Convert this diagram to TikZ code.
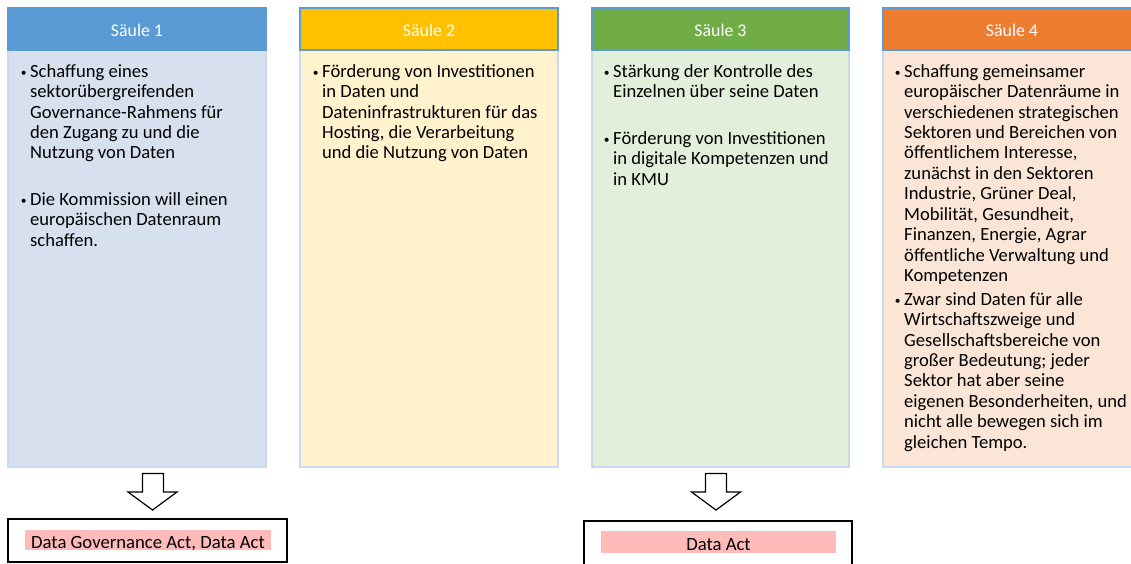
\documentclass[tikz,border=0pt]{standalone}
\usepackage{fontspec}
\setmainfont{Carlito}
\definecolor{hdrA}{HTML}{5B9BD5}
\definecolor{bodyA}{HTML}{D6E0EF}
\definecolor{hdrB}{HTML}{FFC000}
\definecolor{bodyB}{HTML}{FFF2CC}
\definecolor{hdrC}{HTML}{70AD47}
\definecolor{bodyC}{HTML}{E2EFDA}
\definecolor{hdrD}{HTML}{ED7D31}
\definecolor{bodyD}{HTML}{FBE5D6}
\definecolor{bodyline}{HTML}{CBD9EE}
\definecolor{hdrline}{HTML}{5B9BD5}
\definecolor{pinkmark}{HTML}{FFBABA}
\newcommand{\bul}{\llap{\raisebox{1pt}{\fontsize{11.5}{11.5}\selectfont •}\hspace{3.5pt}}}
\tikzset{
  hdrbox/.style={draw=hdrline, line width=1.2pt},
  bodybox/.style={draw=bodyline, line width=1.6pt},
  hdrtext/.style={text=white, font=\fontsize{17.8}{20}\selectfont, inner sep=0pt},
  bullettext/.style={anchor=north west, align=left, inner sep=0pt, font=\fontsize{18.6}{20.45}\selectfont},
  blockarrow/.style={draw=black, line width=1.2pt, fill=white, line join=miter},
  actbox/.style={draw=black, line width=1.3pt, fill=white},
  marktext/.style={fill=pinkmark, inner sep=0pt, anchor=base, font=\fontsize{18.7}{20}\selectfont}
}
\begin{document}
\begin{tikzpicture}[x=1pt, y=-1pt]
\path[use as bounding box] (0,0) rectangle (1131,563);
\clip (0,0) rectangle (1131,563);
\fill[white] (0,0) rectangle (1131,563);

% Column 1
\path[bodybox, fill=bodyA] (8,50) rectangle (266,467);
\path[hdrbox, fill=hdrA] (8,8) rectangle (266,50);
\node[hdrtext] (h1) at (137,30) {Säule 1};
\node[bullettext] (c1a) at (30,62.65) {\strut\bul Schaffung eines\\sektorübergreifenden\\Governance-Rahmens für\\den Zugang zu und die\\Nutzung von Daten};
\node[bullettext] (c1b) at (30,190.65) {\strut\bul Die Kommission will einen\\europäischen Datenraum\\schaffen.};

% Column 2
\path[bodybox, fill=bodyB] (300,50) rectangle (558,467);
\path[hdrbox, fill=hdrB] (300,8) rectangle (558,50);
\node[hdrtext] (h2) at (429,30) {Säule 2};
\node[bullettext] (c2a) at (322,62.65) {\strut\bul Förderung von Investitionen\\in Daten und\\Dateninfrastrukturen für das\\Hosting, die Verarbeitung\\und die Nutzung von Daten};

% Column 3
\path[bodybox, fill=bodyC] (592,50) rectangle (849,467);
\path[hdrbox, fill=hdrC] (592,8) rectangle (849,50);
\node[hdrtext] (h3) at (720.5,30) {Säule 3};
\node[bullettext] (c3a) at (613,62.65) {\strut\bul Stärkung der Kontrolle des\\Einzelnen über seine Daten};
\node[bullettext] (c3b) at (613,129.65) {\strut\bul Förderung von Investitionen\\in digitale Kompetenzen und\\in KMU};

% Column 4
\path[bodybox, fill=bodyD] (883,50) rectangle (1141,467);
\path[hdrbox, fill=hdrD] (883,8) rectangle (1141,50);
\node[hdrtext] (h4) at (1012,30) {Säule 4};
\node[bullettext] (c4a) at (904,62.65) {\strut\bul Schaffung gemeinsamer\\europäischer Datenräume in\\verschiedenen strategischen\\Sektoren und Bereichen von\\öffentlichem Interesse,\\zunächst in den Sektoren\\Industrie, Grüner Deal,\\Mobilität, Gesundheit,\\Finanzen, Energie, Agrar\\öffentliche Verwaltung und\\Kompetenzen};
\node[bullettext] (c4b) at (904,290.65) {\strut\bul Zwar sind Daten für alle\\Wirtschaftszweige und\\Gesellschaftsbereiche von\\großer Bedeutung; jeder\\Sektor hat aber seine\\eigenen Besonderheiten, und\\nicht alle bewegen sich im\\gleichen Tempo.};

% Arrow 1 and result box
\draw[blockarrow] (142.5,473.5) -- (163.5,473.5) -- (163.5,492) -- (177,492) -- (152.5,510) -- (128,492) -- (142.5,492) -- cycle;
\node[actbox, minimum width=279, minimum height=43, inner sep=0pt] (r1) at (147.5,540.5) {};
\node[marktext, minimum width=246, text height=18, text depth=2] (t1) at (148,548) {Data Governance Act, Data Act};

% Arrow 3 and result box
\draw[blockarrow] (705.5,473.5) -- (726.5,473.5) -- (726.5,492) -- (740.5,492) -- (716,510) -- (691.5,492) -- (705.5,492) -- cycle;
\node[actbox, minimum width=268, minimum height=60, inner sep=0pt] (r3) at (718,551) {};
\node[marktext, minimum width=235, text height=19, text depth=3] (t3) at (718.5,550) {Data Act};
\end{tikzpicture}
\end{document}
